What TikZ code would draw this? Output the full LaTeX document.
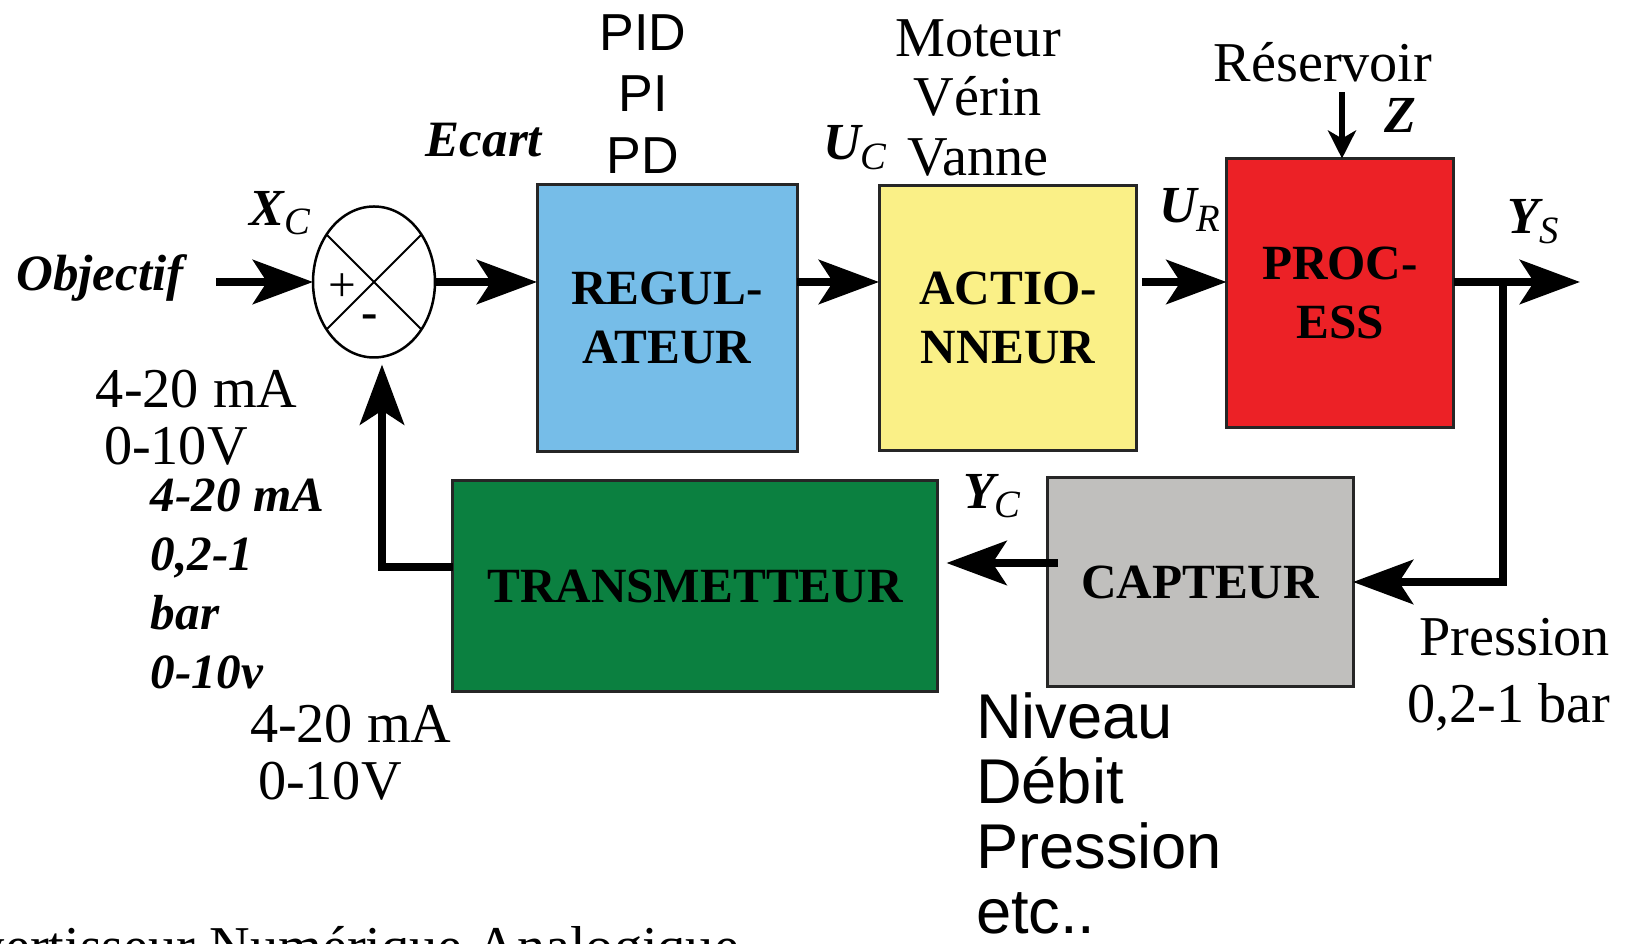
\documentclass[tikz,border=0pt]{standalone}
\usepackage{fontspec}
\setmainfont{Liberation Serif}
\setsansfont{Liberation Sans}
\usepackage{tikz}
\usetikzlibrary{arrows.meta,positioning,shapes.geometric,calc}
\definecolor{regulblue}{RGB}{118,189,232}
\definecolor{actioyellow}{RGB}{250,240,135}
\definecolor{procred}{RGB}{236,33,38}
\definecolor{transgreen}{RGB}{11,128,64}
\definecolor{captgray}{RGB}{192,191,189}

\newcommand{\sig}[2]{{\fontsize{14.8}{15}\selectfont\bfseries\itshape #1}\raisebox{-0.6ex}{\fontsize{11}{11}\selectfont\itshape #2}}

\begin{document}
\begin{tikzpicture}[
    x=0.1mm, y=-0.1mm,
    every node/.style={inner sep=0pt, outer sep=0pt},
    blk/.style={rectangle, draw=black!85, line width=0.3mm, align=center, font=\fontsize{14}{16.8}\selectfont\bfseries},
    sumnode/.style={ellipse, draw, line width=0.25mm, minimum width=12.2mm, minimum height=15.1mm},
    lbl/.style={font=\fontsize{16}{17}\selectfont, align=center},
    sflbl/.style={font=\sffamily\fontsize{14.8}{17.6}\selectfont, align=center},
    bilbl/.style={font=\fontsize{14.5}{16.8}\selectfont\bfseries\itshape},
    arr/.style={-{Stealth[length=6mm, width=4.4mm, inset=1.4mm]}, line width=0.85mm},
    thinarr/.style={-{Stealth[length=2.8mm, width=2.8mm, inset=0.8mm]}, line width=0.6mm}
]
\useasboundingbox (0,0) rectangle (1631,944);

% blocks
\node[sumnode] (sum) at (374,282) {};
\node[blk, fill=regulblue, minimum width=26mm, minimum height=26.7mm] (regul) at (667,318) {REGUL-\\ATEUR};
\node[blk, fill=actioyellow, minimum width=25.8mm, minimum height=26.5mm, right=8.2mm of regul] (actio) {ACTIO-\\NNEUR};
\node[blk, fill=procred, minimum width=22.7mm, minimum height=26.9mm] (proc) at (1340,293) {PROC-\\ESS};
\node[blk, fill=transgreen, minimum width=48.5mm, minimum height=21.1mm] (trans) at (695,586) {TRANSMETTEUR};
\node[blk, fill=captgray, minimum width=30.6mm, minimum height=20.9mm] (capt) at (1200,582) {CAPTEUR};

% comparateur
\draw[line width=0.2mm] (sum.135) -- (sum.-45) (sum.45) -- (sum.-135);
\node[font=\fontsize{14}{14}\selectfont] (plus) at (342,288) {+};
\node[font=\fontsize{14}{14}\selectfont\bfseries] (minus) at (370,322) {-};

% chaine directe
\coordinate (objin) at (216,282);
\coordinate (ysout) at (1580,282);
\coordinate (branch) at (1503,282);
\draw[arr] (objin) -- (sum.west);
\draw[arr] (sum.east) -- (sum.east -| regul.west);
\draw[arr] (regul.east |- sum) -- (sum -| actio.west);
\draw[arr] ($(actio.east |- sum)+(5,0)$) -- (sum -| proc.west);
\draw[arr] (proc.east |- sum) -- (ysout);
\draw[thinarr] ($(proc.north)+(2,-66)$) -- ($(proc.north)+(2,0)$);

% retour
\coordinate (yc) at (0,563);
\coordinate (trin) at (0,567);
\draw[arr] (branch) |- (capt.east);
\draw[arr] ($(capt.west |- yc)+(11,0)$) -- ($(trans.east |- yc)+(9,0)$);
\draw[arr] (trans.west |- trin) -| ($(sum.south)+(8,7)$);

% signaux
\node[bilbl] (objectif) at (100,278) {Objectif};
\node (xc) at (280,213) {\sig{X}{C}};
\node[bilbl] (ecart) at (484,140) {Ecart};
\node (uc) at (855,148) {\sig{U}{C}};
\node (ur) at (1190,210) {\sig{U}{R}};
\node (ys) at (1533,222) {\sig{Y}{S}};
\node (ycl) at (992,496) {\sig{Y}{C}};
\node[font=\fontsize{14.8}{15}\selectfont\bfseries\itshape] (z) at (1400,115) {Z};

% annotations
\node[sflbl] (pidlist) at (643,94) {PID\\PI\\PD};
\node[lbl] (actlist) at (978,98) {Moteur\\Vérin\\Vanne};
\node[lbl] (reserv) at (1323,62) {Réservoir};
\node[font=\fontsize{16}{16.2}\selectfont, align=left, anchor=west] (sigup) at (96,418) {4-20 mA\\\hspace*{0.8mm}0-10V};
\node[bilbl, font=\fontsize{14}{16.8}\selectfont\bfseries\itshape, align=left, anchor=west] (bilist) at (151,584) {4-20 mA\\0,2-1\\bar\\0-10v};
\node[font=\fontsize{16}{16.2}\selectfont, align=left, anchor=west] (sigdown) at (250,753) {4-20 mA\\\hspace*{0.8mm}0-10V};
\node[font=\sffamily\fontsize{18}{18.5}\selectfont, align=left, anchor=west] (measures) at (976,813) {Niveau\\Débit\\Pression\\etc..};
\node[font=\fontsize{16}{19}\selectfont, align=right, anchor=east] (pressr) at (1610,675) {Pression\\0,2-1 bar};

\begin{scope}
\clip (0,0) rectangle (1631,944);
\node[lbl, anchor=base east] (cna) at (739,966) {Convertisseur Numérique Analogique};
\end{scope}

\end{tikzpicture}
\end{document}
